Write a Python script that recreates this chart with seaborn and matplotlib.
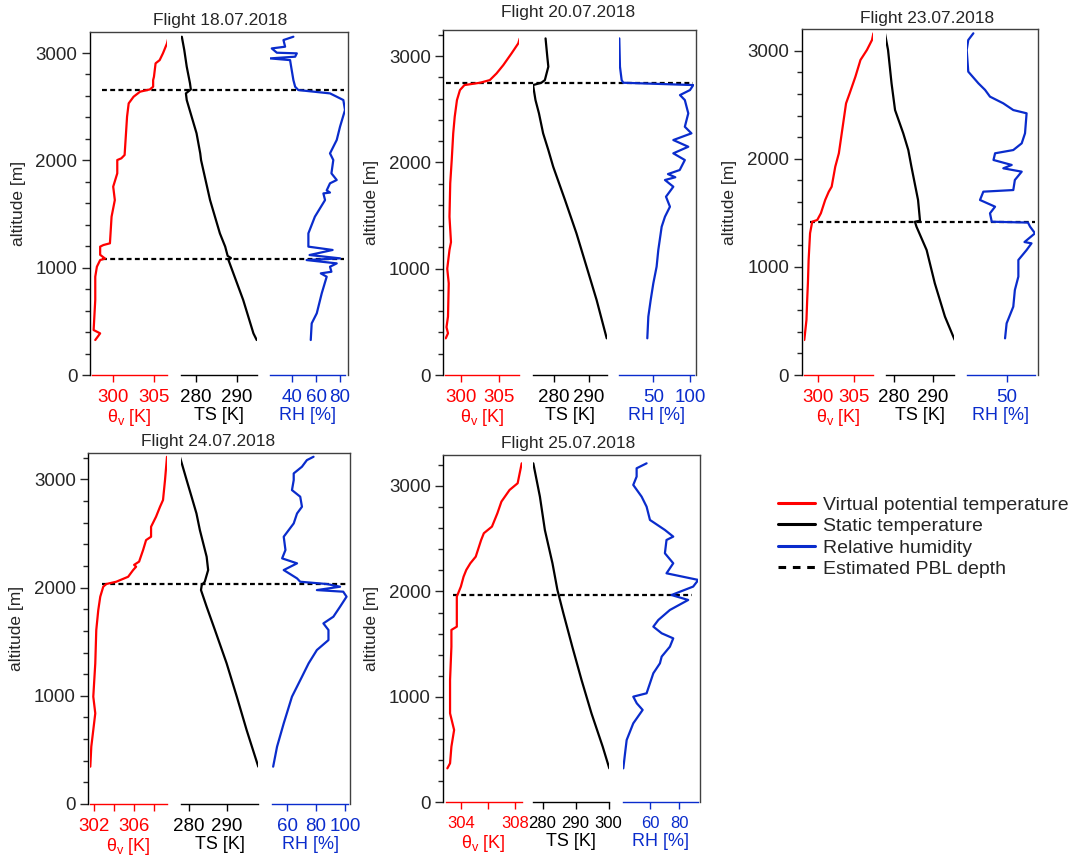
import matplotlib
matplotlib.use('Agg')
import matplotlib.pyplot as plt
from matplotlib.lines import Line2D
from matplotlib.ticker import MultipleLocator
import seaborn as sns

sns.set_style('ticks')
plt.rcParams['font.family'] = ['Liberation Sans', 'DejaVu Sans']
plt.rcParams['font.size'] = 12.5
plt.rcParams['mathtext.fontset'] = 'custom'
plt.rcParams['mathtext.rm'] = 'Liberation Sans'

RED = '#ff0000'
BLACK = '#000000'
BLUE = '#0a2ccc'
PBL_STYLE = (0, (2.2, 1.5))
TICK_FS = 13.5

# ---- Flight 18.07.2018 ----
thv_18 = [297.8, 298.4, 297.6, 297.8, 297.8, 298.0, 298.4, 299.0, 298.4, 298.4, 298.8, 299.6, 299.8,
          300.2, 300.0, 300.5, 300.5, 301.0, 301.4, 301.7, 301.9, 302.5, 303.3, 304.5, 304.9, 304.9,
          305.0, 305.2, 305.7, 306.1, 306.6, 306.8]
thv_alt_18 = [326, 388, 419, 700, 916, 1009, 1071, 1085, 1120, 1196, 1211, 1227, 1475,
              1630, 1755, 1879, 2003, 2019, 2050, 2407, 2531, 2593, 2640, 2661, 2686, 2748,
              2779, 2904, 2934, 2997, 3090, 3152]
ts_18 = [294.9, 294.1, 291.6, 289.2, 288.0, 288.6, 287.8, 287.2, 285.9, 283.5, 281.3, 281.1, 280.2,
         277.8, 277.6, 278.8, 278.6, 277.8, 277.2, 276.6]
ts_alt_18 = [326, 388, 699, 947, 1071, 1090, 1110, 1196, 1320, 1630, 2003, 2065, 2252,
             2562, 2624, 2661, 2717, 2873, 3028, 3152]
rh_18 = [55.5, 56.3, 60.6, 64.8, 69.0, 64.0, 73.0, 71.8, 77.5, 52.0, 80.3, 54.5, 74.0, 53.5, 53.5,
         59.0, 67.6, 66.2, 71.8, 69.0, 71.8, 77.5, 73.0, 74.6, 71.8, 77.5, 80.3, 84.5, 83.1, 77.5,
         71.8, 45.0, 42.3, 40.8, 38.9, 38.0, 21.0, 42.3, 43.7, 26.8, 22.5, 33.8, 32.4, 40.8]
rh_alt_18 = [326, 481, 575, 761, 916, 947, 962, 1009, 1040, 1071, 1087, 1118, 1165, 1196, 1320,
             1475, 1630, 1692, 1700, 1720, 1786, 1817, 1879, 2003, 2065, 2190, 2314, 2469, 2562, 2593,
             2624, 2655, 2686, 2748, 2873, 2934, 2950, 2966, 2997, 3003, 3043, 3059, 3121, 3152]
pbl_18 = [2655, 1081]

# ---- Flight 20.07.2018 ----
thv_20 = [297.9, 298.2, 298.0, 298.2, 298.3, 298.1, 298.4, 298.6, 298.4, 298.5, 298.7, 298.9,
          299.1, 299.4, 299.8, 300.4, 302.5, 303.8, 304.7, 305.6, 306.7, 307.6, 307.8]
thv_alt_20 = [345, 392, 450, 549, 862, 1000, 1176, 1250, 1489, 1803, 2022, 2273,
              2429, 2586, 2680, 2727, 2749, 2774, 2837, 2915, 3025, 3119, 3166]
ts_20 = [295.1, 292.2, 289.3, 286.4, 283.1, 279.7, 278.3, 276.8, 275.6, 274.6, 273.9, 276.3,
         277.3, 278.3, 278.0, 277.5]
ts_alt_20 = [345, 705, 1019, 1332, 1646, 1959, 2116, 2273, 2461, 2586, 2727, 2749,
             2774, 2900, 2994, 3166]
rh_20 = [41.8, 43.2, 46.4, 50.0, 54.5, 56.8, 61.4, 65.9, 72.7, 67.3, 77.3, 65.9, 80.0, 70.0, 86.0,
         93.0, 77.3, 97.7, 77.3, 102.0, 93.0, 97.7, 93.0, 86.4, 100.0, 104.5, 9.0, 6.8, 4.5, 3.6]
rh_alt_20 = [345, 549, 705, 862, 1019, 1176, 1395, 1489, 1583, 1677, 1771, 1834, 1860, 1890, 1928,
             2022, 2085, 2147, 2210, 2273, 2335, 2461, 2586, 2633, 2680, 2727, 2749, 2774, 2900, 3166]
pbl_20 = [2743]

# ---- Flight 23.07.2018 ----
thv_23 = [298.1, 298.4, 298.5, 298.6, 298.7, 298.9, 299.2, 299.9, 300.4, 301.0, 301.5, 301.9,
          302.4, 302.9, 303.3, 303.9, 304.4, 305.2, 305.9, 306.8, 307.5, 307.7]
thv_alt_23 = [324, 509, 694, 848, 1064, 1311, 1418, 1434, 1496, 1619, 1696, 1742,
              1927, 2051, 2236, 2513, 2606, 2760, 2914, 3007, 3099, 3161]
ts_23 = [295.6, 293.1, 290.5, 288.4, 285.8, 285.4, 286.7, 286.2, 284.5, 283.7, 282.4, 280.3,
         279.4, 278.5, 277.7]
ts_alt_23 = [324, 540, 848, 1156, 1372, 1418, 1427, 1619, 1927, 2081, 2236, 2451,
             2698, 3007, 3161]
rh_23 = [48.9, 49.8, 53.6, 54.5, 56.5, 56.5, 61.2, 64.0, 60.0, 66.0, 63.2, 62.0, 41.3, 40.3, 43.2,
         34.6, 36.5, 53.6, 54.5, 58.4, 47.9, 52.7, 42.3, 43.2, 53.6, 58.4, 60.3, 61.2, 53.6, 47.9,
         40.3, 37.5, 33.7, 27.9, 27.0, 27.9, 30.8]
rh_alt_23 = [339, 478, 632, 786, 910, 1064, 1156, 1218, 1230, 1311, 1372, 1410, 1418, 1496, 1557,
             1619, 1696, 1711, 1804, 1881, 1912, 1943, 1989, 2051, 2081, 2143, 2236, 2421, 2451, 2513,
             2575, 2637, 2698, 2806, 3007, 3099, 3161]
pbl_23 = [1418]

# ---- Flight 24.07.2018 ----
thv_24 = [301.6, 301.7, 301.9, 302.1, 301.9, 302.1, 302.2, 302.4, 302.6, 302.9, 303.2, 304.2,
          305.4, 305.9, 306.2, 306.0, 306.5, 306.9, 307.2, 307.7, 307.7, 308.2, 308.6, 308.9,
          309.1, 309.3]
thv_alt_24 = [345, 530, 684, 838, 992, 1300, 1608, 1792, 1916, 2008, 2033, 2054,
              2100, 2162, 2193, 2210, 2240, 2347, 2439, 2470, 2562, 2655, 2747, 2809,
              2993, 3209]
ts_24 = [298.4, 295.3, 292.7, 290.0, 286.9, 284.7, 283.2, 283.4, 284.2, 285.1, 284.7, 282.9,
         282.0, 280.7, 279.4, 277.6]
ts_alt_24 = [345, 684, 992, 1300, 1608, 1823, 1977, 2023, 2054, 2162, 2285, 2532,
             2685, 2840, 2993, 3209]
rh_24 = [50.4, 53.1, 57.7, 63.4, 70.3, 74.9, 80.6, 88.6, 88.6, 85.1, 92.0, 96.6, 101.1, 98.8, 80.6,
         96.6, 87.4, 69.1, 66.9, 57.7, 66.9, 56.6, 58.9, 57.7, 64.6, 66.9, 70.3, 69.1, 63.4, 64.6,
         64.6, 70.3, 73.7, 78.3]
rh_alt_24 = [345, 530, 745, 992, 1176, 1300, 1423, 1515, 1608, 1669, 1731, 1823, 1916, 1962, 1977,
             2008, 2033, 2054, 2085, 2162, 2224, 2270, 2347, 2470, 2593, 2685, 2747, 2840, 2901, 2993,
             3055, 3117, 3178, 3209]
pbl_24 = [2033]

# ---- Flight 25.07.2018 ----
thv_25 = [303.0, 303.2, 303.3, 303.5, 303.2, 303.2, 303.3, 303.3, 303.7, 303.7, 304.0, 304.2,
          304.4, 304.7, 305.1, 305.5, 305.7, 306.3, 306.7, 307.0, 307.6, 308.2, 308.4, 308.5]
thv_alt_25 = [322, 370, 528, 686, 844, 1160, 1476, 1635, 1666, 1951, 2046, 2140,
              2204, 2267, 2330, 2488, 2552, 2615, 2741, 2852, 2962, 3026, 3152, 3215]
ts_25 = [300.2, 298.2, 294.8, 291.8, 289.0, 286.3, 284.5, 283.0, 280.7, 279.2, 277.2]
ts_alt_25 = [322, 528, 844, 1160, 1476, 1793, 2014, 2267, 2583, 2899, 3215]
rh_25 = [41.8, 43.0, 44.1, 48.6, 55.0, 51.0, 48.6, 57.7, 60.0, 62.3, 66.8, 68.0, 73.6, 75.9, 68.0,
         62.3, 65.7, 73.6, 86.1, 74.7, 89.5, 93.0, 71.3, 75.9, 70.2, 71.3, 75.9, 70.2, 60.0, 57.7,
         54.3, 48.6, 50.9, 50.9, 57.7]
rh_alt_25 = [322, 465, 591, 749, 876, 939, 1002, 1034, 1129, 1224, 1318, 1382, 1476, 1555, 1603,
             1666, 1729, 1824, 1919, 1966, 2046, 2109, 2172, 2267, 2362, 2488, 2520, 2583, 2678, 2804,
             2899, 3010, 3089, 3168, 3215]
pbl_25 = [1970]

FIG_W, FIG_H = 1072, 859

# panel layout in pixels: frame, title spot, dashed line extent, and the three bottom axes
panels = [
    dict(title='Flight 18.07.2018', frame=(90, 348, 32, 375), ytop=3196, tpos=(220, 21), pbl=pbl_18,
         dash=(0.047, 0.985), tick_fs=TICK_FS,
         segs=[((92, 167), thv_18, thv_alt_18, (297.4, 306.6), [300, 305], ['300', '305']),
               ((181, 256.7), ts_18, ts_alt_18, (276.4, 294.9), [280, 290], ['280', '290']),
               ((270, 345), rh_18, rh_alt_18, (21, 84.5), [40, 60, 80], ['40', '60', '80'])]),
    dict(title='Flight 20.07.2018', frame=(443.3, 696, 30, 375), ytop=3245, tpos=(568, 13), pbl=pbl_20,
         dash=(0.01, 0.99), tick_fs=TICK_FS,
         segs=[((445, 519), thv_20, thv_alt_20, (297.8, 307.7), [300, 305], ['300', '305']),
               ((532.7, 606.7), ts_20, ts_alt_20, (273.8, 295.1), [280, 290], ['280', '290']),
               ((619.3, 694), rh_20, rh_alt_20, (3.6, 105.5), [50, 100], ['50', '100'])]),
    dict(title='Flight 23.07.2018', frame=(801.7, 1038.3, 29.3, 375), ytop=3198, tpos=(927, 18), pbl=pbl_23,
         dash=(0.035, 0.986), tick_fs=TICK_FS,
         segs=[((804.3, 872.7), thv_23, thv_alt_23, (298.1, 307.6), [300, 305], ['300', '305']),
               ((885.7, 954.3), ts_23, ts_alt_23, (277.9, 295.5), [280, 290], ['280', '290']),
               ((966.7, 1035), rh_23, rh_alt_23, (27, 66), [50], ['50'])]),
    dict(title='Flight 24.07.2018', frame=(88.3, 350, 453.3, 804), ytop=3241, tpos=(208, 441), pbl=pbl_24,
         dash=(0.052, 0.99), tick_fs=TICK_FS,
         segs=[((90, 166.7), thv_24, thv_alt_24, (301.57, 309.27), [302, 304, 306, 308], ['302', '', '306', '']),
               ((181, 258.3), ts_24, ts_alt_24, (277.9, 298.4), [280, 290], ['280', '290']),
               ((271.7, 348.3), rh_24, rh_alt_24, (49.4, 102.3), [60, 80, 100], ['60', '80', '100'])]),
    dict(title='Flight 25.07.2018', frame=(443.3, 700, 455, 802.3), ytop=3294, tpos=(568, 443), pbl=pbl_25,
         dash=(0.037, 0.97), tick_fs=12,
         segs=[((446, 521.7), thv_25, thv_alt_25, (302.9, 308.5), [304, 306, 308], ['304', '', '308']),
               ((533.3, 609.3), ts_25, ts_alt_25, (277.2, 300.2), [280, 290, 300], ['280', '290', '300']),
               ((623.3, 698.3), rh_25, rh_alt_25, (41.8, 93), [60, 80], ['60', '80'])]),
]

# colour and label of the three bottom axes, left to right
SEG_STYLE = [(RED, r'θ$_\mathregular{v}$ [K]'), (BLACK, 'TS [K]'), (BLUE, 'RH [%]')]


def box(left, right, top, bottom):
    return [left / FIG_W, 1 - bottom / FIG_H, (right - left) / FIG_W, (bottom - top) / FIG_H]


fig = plt.figure(figsize=(10.72, 8.59), dpi=100)

for p in panels:
    left, right, top, bottom = p['frame']
    ax = fig.add_axes(box(left, right, top, bottom))
    ax.set_xlim(0, 1)
    ax.set_ylim(0, p['ytop'])
    ax.set_xticks([])
    ax.spines['bottom'].set_visible(False)
    for side in ['top', 'right']:
        ax.spines[side].set_color('#404040')
        ax.spines[side].set_linewidth(1.0)
    ax.spines['left'].set_color('black')
    ax.spines['left'].set_linewidth(1.0)
    ax.yaxis.set_major_locator(MultipleLocator(1000))
    ax.yaxis.set_minor_locator(MultipleLocator(200))
    ax.tick_params(axis='y', which='major', length=6, width=1, pad=3, labelsize=TICK_FS)
    ax.tick_params(axis='y', which='minor', length=3.5, width=1)
    ax.set_ylabel('altitude [m]', labelpad=7)
    for h in p['pbl']:
        ax.axhline(h, xmin=p['dash'][0], xmax=p['dash'][1], color='black', lw=1.6, ls=PBL_STYLE)
    fig.text(p['tpos'][0] / FIG_W, 1 - p['tpos'][1] / FIG_H, p['title'],
             ha='center', va='center', fontsize=12.5)

    for i, ((x0, x1), xs, alts, xlim, ticks, labels) in enumerate(p['segs']):
        color, name = SEG_STYLE[i]
        sub = fig.add_axes(box(x0, x1, top, bottom))
        sub.set_facecolor('none')
        sns.lineplot(x=xs, y=alts, sort=False, estimator=None, ax=sub, color=color, lw=1.6)
        sub.set_xlim(*xlim)
        sub.set_ylim(0, p['ytop'])
        sub.set_yticks([])
        for side in ['top', 'right', 'left']:
            sub.spines[side].set_visible(False)
        sub.spines['bottom'].set_color(color)
        sub.spines['bottom'].set_linewidth(1.0)
        sub.set_xticks(ticks)
        sub.set_xticklabels(labels)
        sub.tick_params(axis='x', length=5, width=1, color=color, labelcolor=color, pad=5,
                        labelsize=p['tick_fs'])
        sub.set_xlabel(name, color=color, labelpad=1, fontsize=13)

handles = [Line2D([], [], color=RED, lw=2.2),
           Line2D([], [], color=BLACK, lw=2.2),
           Line2D([], [], color=BLUE, lw=2.2),
           Line2D([], [], color=BLACK, lw=2.2, ls=(0, (2.5, 2.2)))]
names = ['Virtual potential temperature', 'Static temperature', 'Relative humidity', 'Estimated PBL depth']
fig.legend(handles, names, loc='upper left', bbox_to_anchor=(778 / FIG_W, 1 - 496 / FIG_H),
           frameon=False, borderpad=0, borderaxespad=0, handlelength=1.9, handletextpad=0.4,
           labelspacing=0.2, fontsize=14)

fig.savefig('out.png', dpi=100)
